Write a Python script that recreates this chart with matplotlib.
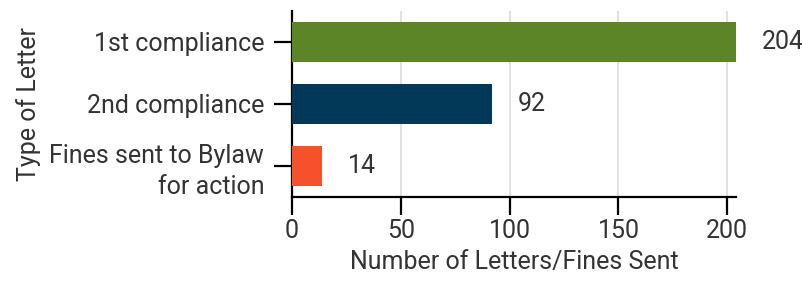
import matplotlib.pyplot as plt

# data
categories = ["1st compliance", "2nd compliance", "Fines sent to Bylaw\nfor action"]
counts = [204, 92, 14]
colours = ["#5b8527", "#023858", "#f5512b"]
x_ticks = [0, 50, 100, 150, 200]

TEXT = "#333333"
FS = 18

plt.rcParams['font.family'] = ['Roboto', 'DejaVu Sans']

fig = plt.figure(figsize=(8.03, 2.81), dpi=100)
ax = fig.add_axes([292 / 803, 1 - 197 / 281, 444 / 803, 186 / 281])

ypos = list(range(len(categories)))
ax.barh(ypos, counts, height=0.645, color=colours, zorder=3)

for y, v in zip(ypos, counts):
    ax.annotate(str(v), (v, y), xytext=(18.5, 0), textcoords="offset points",
                ha="left", va="center", fontsize=FS, color=TEXT)

ax.set_ylim(-0.5, len(categories) - 0.5)
ax.invert_yaxis()
ax.set_xlim(0, 204)
ax.set_xticks(x_ticks)
ax.set_yticks(ypos)
ax.set_yticklabels(categories, linespacing=1.35)

ax.grid(axis="x", color="#e0e0e0", linewidth=1.5, zorder=0)
for s in ("top", "right"):
    ax.spines[s].set_visible(False)
for s in ("left", "bottom"):
    ax.spines[s].set_linewidth(1.6)
    ax.spines[s].set_color("black")

ax.tick_params(axis="both", length=13, width=1.6, labelsize=FS, labelcolor=TEXT)
ax.tick_params(axis="y", pad=7)
ax.tick_params(axis="x", pad=3)

ax.set_xlabel("Number of Letters/Fines Sent", fontsize=FS, color=TEXT, labelpad=5)
ax.set_ylabel("Type of Letter", fontsize=FS, color=TEXT, labelpad=6)

fig.savefig("out.png", dpi=100)
